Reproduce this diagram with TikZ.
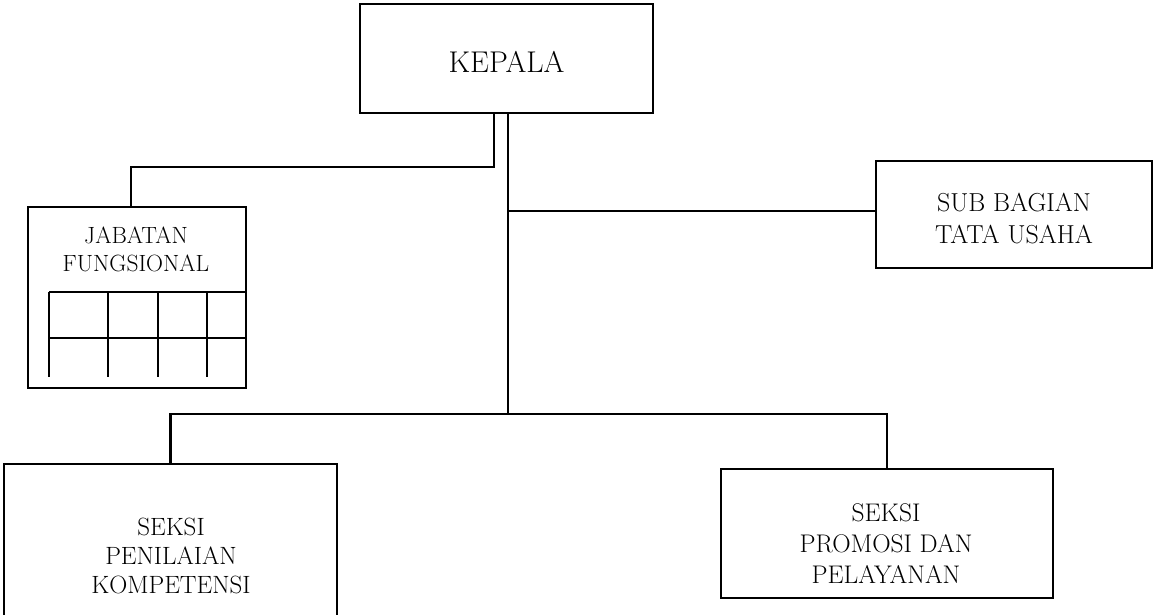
\documentclass[tikz,border=0pt]{standalone}
\begin{document}
\begin{tikzpicture}[x=1pt,y=-1pt,
  box/.style={draw,line width=2.6pt,rectangle,inner sep=0pt},
  lab/.style={align=center,inner sep=0pt},
  conn/.style={line width=2.3pt},
  grid/.style={line width=2.2pt}]
\useasboundingbox (0,0) rectangle (1153,615);
% boxes
\node[box,minimum width=293pt,minimum height=109pt] (kep) at (506.5,58.5) {};
\node[box,minimum width=218pt,minimum height=181pt] (jab) at (137,297.5) {};
\node[box,minimum width=276pt,minimum height=107pt] (sub) at (1014,214.5) {};
\node[box,minimum width=333pt,minimum height=186pt] (pen) at (170.5,557) {};
\node[box,minimum width=332pt,minimum height=129pt] (pro) at (887,533.5) {};
% labels
\node[lab,font=\fontsize{30}{36}\selectfont] (kept) at (506.5,62) {KEPALA};
\node[lab,font=\fontsize{23.5}{28}\selectfont] (jabt) at (136,249) {JABATAN\\FUNGSIONAL};
\node[lab,font=\fontsize{26}{32}\selectfont] (subt) at (1014,219) {SUB BAGIAN\\TATA USAHA};
\node[lab,font=\fontsize{25}{29}\selectfont] (pent) at (171,556) {SEKSI\\PENILAIAN\\KOMPETENSI};
\node[lab,font=\fontsize{25.5}{31}\selectfont] (prot) at (886,544) {SEKSI\\PROMOSI DAN\\PELAYANAN};
% grid inside jabatan fungsional
\draw[grid] (49,292) -- (jab.east |- 0,292);
\draw[grid] (49,338) -- (jab.east |- 0,338);
\foreach \gx in {49,108,158,207} {\draw[grid] (\gx,292) -- (\gx,377);}
% connectors
\coordinate (bus) at (508,414);
\coordinate (tap) at (508,211);
\draw[conn] ([xshift=-12.5pt]kep.south) |- (131,167) -- (131,0 |- jab.north);
\draw[conn] ([xshift=1.5pt]kep.south) -- (bus);
\draw[conn] (tap) -- (sub.west |- tap);
\draw[conn] (pen.north) |- (bus) -| (pro.north);
\end{tikzpicture}
\end{document}
